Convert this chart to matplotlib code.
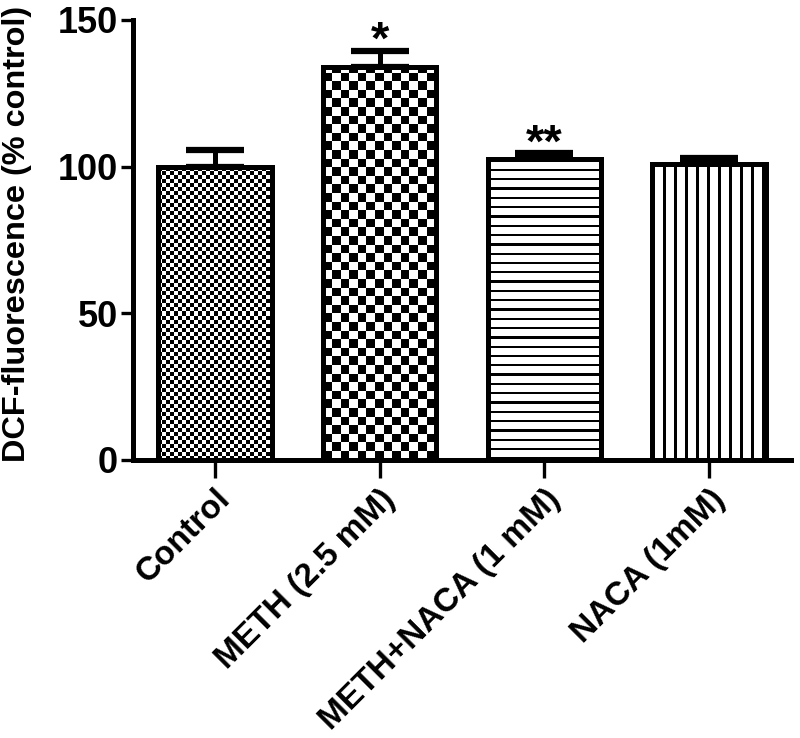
import numpy as np
import matplotlib
matplotlib.use('Agg')
import matplotlib.pyplot as plt

# data
categories = ['Control', 'METH (2.5 mM)', 'METH+NACA (1 mM)', 'NACA (1mM)']
means = [100, 134, 102.5, 101]
errors = [5.5, 5.5, 2.0, 1.8]
stars = ['', '*', '**', '']

# fill texture of each bar: (kind, period in px)
textures = [('checker', 4.0), ('checker', 8.6), ('hlines', 9.3), ('vlines', 11.0)]

plt.rcParams['font.family'] = ['Liberation Sans', 'DejaVu Sans']
plt.rcParams['font.weight'] = 'bold'

fig = plt.figure(figsize=(8, 7.38), dpi=100)
ax = fig.add_axes([0.166, 0.377, 0.823, 0.596])

x = np.arange(len(categories))
width = 0.69

bars = ax.bar(x, means, width, facecolor='none', edgecolor='black',
              linewidth=3.6, zorder=3)
ax.errorbar(x, means, yerr=[np.zeros(len(errors)), errors], fmt='none',
            ecolor='black', elinewidth=3.6, capsize=21, capthick=4.5, zorder=2)

ax.set_xlim(-0.5, len(categories) - 0.5)
ax.set_ylim(0, 150)


def texture(kind, p, h, w):
    i, j = np.mgrid[0:h, 0:w]
    if kind == 'checker':
        return ((np.floor(i / p) + np.floor(j / p)) % 2).astype(float)
    if kind == 'hlines':
        return ((i % p) >= 2.3).astype(float)
    return ((j % p) >= 2.5).astype(float)


# draw the fill patterns at pixel resolution, clipped to each bar
fig.canvas.draw()
for bar, (kind, p) in zip(bars, textures):
    bb = bar.get_window_extent()
    w = max(1, int(round(bb.width)))
    h = max(1, int(round(bb.height)))
    img = texture(kind, p, h, w)[::-1]
    x0 = bar.get_x()
    im = ax.imshow(img, cmap='gray', vmin=0, vmax=1, aspect='auto',
                   interpolation='nearest', origin='upper',
                   extent=(x0, x0 + bar.get_width(), 0, bar.get_height()),
                   zorder=2.5)
    im.set_clip_path(bar)

ax.set_xlim(-0.5, len(categories) - 0.5)
ax.set_ylim(0, 150)

for xi, m, e, s in zip(x, means, errors, stars):
    if s:
        ax.text(xi, m + e - 1.0, s, ha='center', va='baseline',
                fontsize=34, fontweight='bold')

ax.spines['top'].set_visible(False)
ax.spines['right'].set_visible(False)
ax.spines['left'].set_linewidth(3.6)
ax.spines['bottom'].set_linewidth(3.6)

ax.set_yticks([0, 50, 100, 150])
ax.tick_params(axis='y', length=8.5, width=2.4, labelsize=26, pad=2)
ax.tick_params(axis='x', length=13, width=2.4, labelsize=24, pad=4)
ax.set_xticks(x)
ax.set_xticklabels(categories, rotation=45, ha='right', va='top',
                   rotation_mode='anchor', fontweight='bold')
for lbl in ax.get_yticklabels():
    lbl.set_fontweight('bold')

ax.set_ylabel('DCF-fluorescence (% control)', fontsize=23.4, fontweight='bold')
ax.yaxis.set_label_coords(-0.153, 0.513)

fig.savefig('out.png', dpi=100)
